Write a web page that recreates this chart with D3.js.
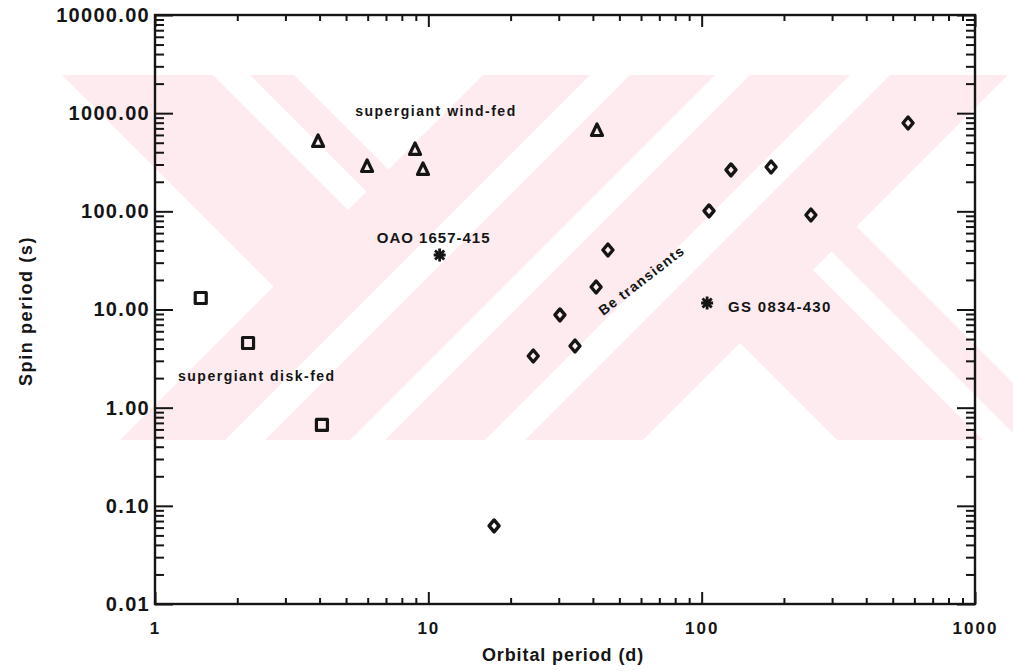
<!DOCTYPE html>
<html>
<head>
<meta charset="utf-8">
<script src="https://cdn.jsdelivr.net/npm/d3@7"></script>
<style>
  body { margin: 0; background: #fff; }
  svg text { font-family: "Liberation Sans", Arial, sans-serif; font-weight: bold; fill: #151515; }
</style>
</head>
<body>
<svg id="chart" width="1013" height="671"></svg>
<script>
// orbital period (d) vs spin period (s)
const diskFedOrb = [1.47, 2.19, 4.08];
const diskFedSpin = [13.1, 4.56, 0.667];

const windFedOrb = [3.95, 5.97, 8.94, 9.56, 41.4];
const windFedSpin = [509, 283, 422, 264, 658];

const beOrb = [17.4, 24.2, 30.3, 34.4, 41.1, 45.4, 106.4, 128, 179.5, 251, 569];
const beSpin = [0.0624, 3.36, 8.80, 4.25, 16.96, 40.4, 100.9, 264, 283, 91.8, 794];

const oddNames = ["OAO 1657-415", "GS 0834-430"];
const oddOrb = [11.0, 104.7];
const oddSpin = [35.9, 11.65];

const groupNames = ["supergiant wind-fed", "supergiant disk-fed", "Be transients"];

const xTicks = [1, 10, 100, 1000];
const yTicks = [0.01, 0.1, 1, 10, 100, 1000, 10000];

const ink = "#151515";
const svg = d3.select("#chart");

const x = d3.scaleLog().domain([1, 1000]).range([155, 975]);
const y = d3.scaleLog().domain([0.01, 10000]).range([604, 15]);

// ---- pale pink watermark behind the plot (scan artefact) ----
function clipPoly(poly, a, b, c) {
  // keep a*x + b*y <= c
  let out = [];
  for (let i = 0; i < poly.length; i++) {
    let p = poly[i], q = poly[(i + 1) % poly.length];
    let fp = a * p[0] + b * p[1] - c, fq = a * q[0] + b * q[1] - c;
    if (fp <= 0) out.push(p);
    if ((fp < 0 && fq > 0) || (fp > 0 && fq < 0)) {
      let t = fp / (fp - fq);
      out.push([p[0] + t * (q[0] - p[0]), p[1] + t * (q[1] - p[1])]);
    }
  }
  return out;
}
function region(cons) {
  let poly = [[40, 75], [1013, 75], [1013, 440], [40, 440]];
  for (let [k, c] of cons) {
    if (k == "u<") poly = clipPoly(poly, 1, 1, c);
    if (k == "u>") poly = clipPoly(poly, -1, -1, -c);
    if (k == "v<") poly = clipPoly(poly, 1, -1, c);
    if (k == "v>") poly = clipPoly(poly, -1, 1, -c);
  }
  return poly;
}
// u = x + y, v = x - y : all stripes run at 45 degrees
const wm = svg.append("g").attr("id", "watermark");
wm.append("rect").attr("x", 40).attr("y", 75).attr("width", 973).attr("height", 365)
  .attr("fill", "#fdebef");
const gaps = [
  [["v<", -13], ["u<", 560]],
  [["v>", 138], ["v<", 175], ["u<", 558]],
  [["v>", 219], ["u<", 558]],
  [["u>", 665], ["u<", 705]],
  [["u>", 790], ["u<", 825]],
  [["u>", 925], ["u<", 965]],
  [["u>", 1083], ["v<", 397]],
  [["u>", 1083], ["v>", 543], ["v<", 580]],
  [["u>", 1083], ["v>", 630]]
];
wm.selectAll("polygon").data(gaps.map(region)).enter().append("polygon")
  .attr("points", d => d.map(p => p.join(",")).join(" "))
  .attr("fill", "#fff");

// ---- axes ----
let minorX = [], minorY = [];
xTicks.slice(0, -1).forEach(d => { for (let k = 2; k < 10; k++) minorX.push(d * k); });
yTicks.slice(0, -1).forEach(d => { for (let k = 2; k < 10; k++) minorY.push(d * k); });

function styleAxis(g, size) {
  g.select(".domain").remove();
  g.selectAll("line").attr("stroke", ink).attr("stroke-width", 2);
  g.attr("font-family", null).attr("font-size", null);
  g.selectAll("text").style("font-size", size + "px");
}

svg.append("g").attr("transform", "translate(0,604)")
  .call(d3.axisBottom(x).tickValues(minorX).tickSize(-6).tickSizeOuter(0).tickFormat(""))
  .call(g => styleAxis(g, 17));
svg.append("g").attr("transform", "translate(0,604)")
  .call(d3.axisBottom(x).tickValues(xTicks).tickSize(-12).tickSizeOuter(0).tickPadding(18)
    .tickFormat(d3.format("d")))
  .call(g => styleAxis(g, 17))
  .selectAll("text").attr("letter-spacing", 2);
svg.append("g").attr("transform", "translate(0,15)")
  .call(d3.axisTop(x).tickValues(minorX).tickSize(-6).tickSizeOuter(0).tickFormat(""))
  .call(g => styleAxis(g, 17));
svg.append("g").attr("transform", "translate(0,15)")
  .call(d3.axisTop(x).tickValues(xTicks).tickSize(-12).tickSizeOuter(0).tickFormat(""))
  .call(g => styleAxis(g, 17));

svg.append("g").attr("transform", "translate(155,0)")
  .call(d3.axisLeft(y).tickValues(minorY).tickSize(-9).tickSizeOuter(0).tickFormat(""))
  .call(g => styleAxis(g, 20));
svg.append("g").attr("transform", "translate(155,0)")
  .call(d3.axisLeft(y).tickValues(yTicks).tickSize(-18).tickSizeOuter(0).tickPadding(5)
    .tickFormat(d3.format(".2f")))
  .call(g => styleAxis(g, 20))
  .selectAll("text").attr("letter-spacing", 1.3);
svg.append("g").attr("transform", "translate(975,0)")
  .call(d3.axisRight(y).tickValues(minorY).tickSize(-9).tickSizeOuter(0).tickFormat(""))
  .call(g => styleAxis(g, 20));
svg.append("g").attr("transform", "translate(975,0)")
  .call(d3.axisRight(y).tickValues(yTicks).tickSize(-18).tickSizeOuter(0).tickFormat(""))
  .call(g => styleAxis(g, 20));

svg.append("rect")
  .attr("x", x.range()[0]).attr("y", y.range()[1])
  .attr("width", x.range()[1] - x.range()[0]).attr("height", y.range()[0] - y.range()[1])
  .attr("fill", "none").attr("stroke", ink).attr("stroke-width", 2.4);

// axis titles
svg.append("text")
  .attr("x", 563).attr("y", 661)
  .attr("text-anchor", "middle").attr("letter-spacing", 0.9)
  .style("font-size", "18px")
  .text("Orbital period (d)");
svg.append("text")
  .attr("transform", "translate(32,311) rotate(-90)")
  .attr("text-anchor", "middle").attr("letter-spacing", 1.6)
  .style("font-size", "18px")
  .text("Spin period (s)");

// ---- markers ----
const markers = {
  square: "M-5.5,-5.5H5.5V5.5H-5.5Z",
  triangle: "M0,-7L5.5,4.5H-5.5Z",
  diamond: "M0,-6L5,0L0,6L-5,0Z",
  star: "M0,-6.5V6.5M-6,0H6M-4.6,-4.6L4.6,4.6M-4.6,4.6L4.6,-4.6"
};

function drawSeries(orb, spin, shape, w) {
  svg.append("g").selectAll("path")
    .data(orb.map((d, i) => [d, spin[i]]))
    .enter().append("path")
    .attr("transform", d => `translate(${x(d[0])},${y(d[1])})`)
    .attr("d", markers[shape])
    .attr("fill", "none")
    .attr("stroke", ink)
    .attr("stroke-width", w)
    .attr("stroke-linejoin", "round");
}
drawSeries(diskFedOrb, diskFedSpin, "square", 3.2);
drawSeries(windFedOrb, windFedSpin, "triangle", 3.2);
drawSeries(beOrb, beSpin, "diamond", 3.4);
drawSeries(oddOrb, oddSpin, "star", 2.8);

// ---- labels ----
svg.append("text")
  .attr("x", x(5.40)).attr("y", y(936))
  .attr("letter-spacing", 1.5).style("font-size", "14px")
  .text(groupNames[0]);
svg.append("text")
  .attr("x", x(1.214)).attr("y", y(1.87))
  .attr("letter-spacing", 1.5).style("font-size", "14px")
  .text(groupNames[1]);
svg.append("text")
  .attr("transform", `translate(${x(43.6)},${y(8.6)}) rotate(-37.5)`)
  .attr("letter-spacing", 1.2).style("font-size", "14px")
  .text(groupNames[2]);

svg.append("text")
  .attr("x", x(oddOrb[0]) - 6).attr("y", y(oddSpin[0]) - 12)
  .attr("text-anchor", "middle").attr("letter-spacing", 1)
  .style("font-size", "15px")
  .text(oddNames[0]);
svg.append("text")
  .attr("x", x(oddOrb[1]) + 21).attr("y", y(oddSpin[1]) + 9)
  .attr("letter-spacing", 1.3)
  .style("font-size", "15px")
  .text(oddNames[1]);
</script>
</body>
</html>
